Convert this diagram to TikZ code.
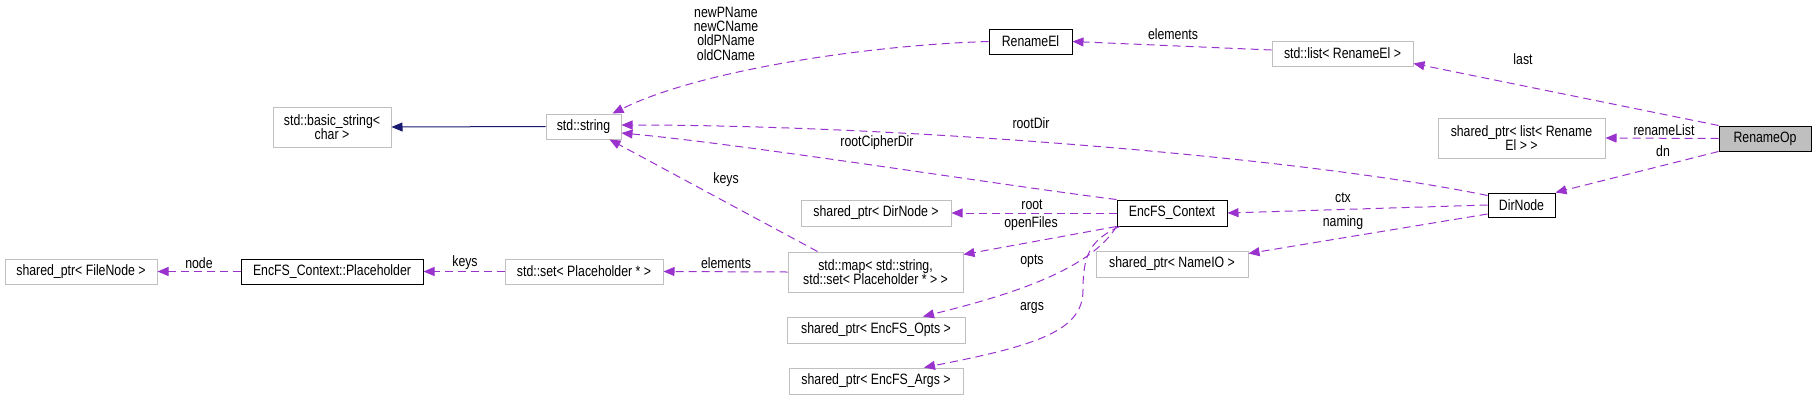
\documentclass[tikz,border=0pt]{standalone}
\usepackage{fontspec}
\setmainfont{Liberation Sans}[FakeStretch=0.82]
\usepackage{tikz}
\usetikzlibrary{positioning, arrows.meta, calc}
\definecolor{dxPurple}{HTML}{9A32CD}
\definecolor{dxNavy}{HTML}{191970}
\definecolor{dxGray}{HTML}{BFBFBF}

\begin{document}
\begin{tikzpicture}[
    x=1pt, y=-1pt,
    >={Triangle[length=11pt, width=9pt]},
    font=\fontsize{15}{14.3}\selectfont,
    box/.style={draw=dxGray, line width=1pt, fill=white, inner sep=0pt,
                minimum height=25pt, align=center},
    docbox/.style={box, draw=black},
    curbox/.style={docbox, fill=dxGray},
    lbl/.style={inner sep=0pt, align=center},
    usearrow/.style={->, dxPurple, line width=1pt, dash pattern=on 8pt off 5pt},
    basearrow/.style={->, dxNavy, line width=1pt},
]
\useasboundingbox (0,0) rectangle (1816,400);

% --- Top row: strings and rename elements ---
\node[box, minimum width=118pt, minimum height=40pt] (basic) at (332,127) {std::basic\_string<\\char >};
\node[box, minimum width=75pt] (string) at (583.5,126.5) {std::string};
\node[docbox, minimum width=83pt] (renel) at (1030.5,41.5) {RenameEl};
\node[box, minimum width=141pt] (strlist) at (1342.5,53.5) {std::list< RenameEl >};
\node[box, minimum width=167pt, minimum height=40pt] (splist) at (1521.5,138) {shared\_ptr< list< Rename\\El > >};
\node[curbox, minimum width=92pt] (renameop) at (1765,138.5) {RenameOp};
\node[docbox, minimum width=67pt, minimum height=24pt] (dirnode) at (1521.5,205) {DirNode};

% --- Middle: context and its members ---
\node[docbox, minimum width=110pt, minimum height=26pt] (ctx) at (1172,213) {EncFS\_Context};
\node[box, minimum width=150pt, minimum height=26pt] (spdir) at (876,213) {shared\_ptr< DirNode >};
\node[box, minimum width=152pt, minimum height=26pt] (nameio) at (1172,264) {shared\_ptr< NameIO >};
\node[box, minimum width=175pt, minimum height=40pt] (map) at (875.5,272) {std::map< std::string,\\ std::set< Placeholder * > >};
\node[box, minimum width=178pt, minimum height=26pt] (opts) at (876,330) {shared\_ptr< EncFS\_Opts >};
\node[box, minimum width=174pt, minimum height=26pt] (args) at (876,381) {shared\_ptr< EncFS\_Args >};

% --- Bottom left: placeholder chain ---
\node[box, minimum width=158pt] (set) at (584,271.5) {std::set< Placeholder * >};
\node[docbox, minimum width=182pt] (ph) at (332,271.5) {EncFS\_Context::Placeholder};
\node[box, minimum width=152pt] (fnode) at (81,271.5) {shared\_ptr< FileNode >};

% --- Edges ---
\draw[basearrow] (string.west) -- (basic.east);
\draw[usearrow] (renel.west) .. controls (870,45) and (700,70) .. ([xshift=-9pt]string.north east);
\draw[usearrow] ([yshift=3.5pt]strlist.west) -- (renel.east);
\draw[usearrow] (renameop.north west) -- ([yshift=3pt]strlist.south east);
\draw[usearrow] (renameop.west) -- (splist.east);
\draw[usearrow] (renameop.south west) -- (dirnode.north east);
\draw[usearrow] ([yshift=-3pt]dirnode.north west) .. controls (1300,157) and (900,125) .. ([yshift=1.5pt]string.east);
\draw[usearrow] (ctx.north west) .. controls (1000,185) and (750,145) .. ([yshift=-6.5pt]string.east);
\draw[usearrow] ([xshift=30pt]map.north west) -- ([xshift=-12pt]string.south east);
\draw[usearrow] (dirnode.west) -- (ctx.east);
\draw[usearrow] ([yshift=-9pt]dirnode.west) -- ([yshift=-3pt]nameio.north east);
\draw[usearrow] (ctx.west) -- (spdir.east);
\draw[usearrow] (ctx.south west) -- ([yshift=-3pt]map.north east);
\draw[usearrow] (ctx.south west) .. controls (1090,270) and (1010,295) .. ([xshift=47pt]opts.north);
\coordinate (argsbend) at (1083,290);
\draw[usearrow] ([xshift=3pt]ctx.south west) .. controls (1090,240) and (1083,255) .. (argsbend)
                .. controls (1083,330) and (1040,345) .. ([xshift=48pt]args.north);
\draw[usearrow] (map.west) -- (set.east);
\draw[usearrow] (set.west) -- (ph.east);
\draw[usearrow] (ph.west) -- (fnode.east);

% --- Edge labels ---
\node[lbl] (lnames) at (726,33.5) {newPName\\newCName\\oldPName\\oldCName};
\node[lbl] (lelemtop) at (1173,34) {elements};
\node[lbl] (llast) at (1523,59) {last};
\node[lbl] (lrenlist) at (1664,130) {renameList};
\node[lbl] (ldn) at (1663,151) {dn};
\node[lbl] (lrootdir) at (1031,123) {rootDir};
\node[lbl] (lrootciph) at (877,143) {rootCipherDir};
\node[lbl] (lkeystop) at (726,180) {keys};
\node[lbl] (lroot) at (1032,205) {root};
\node[lbl] (lopen) at (1031,224) {openFiles};
\node[lbl] (lopts) at (1032,261) {opts};
\node[lbl] (largs) at (1032,308) {args};
\node[lbl] (lctx) at (1343,198) {ctx};
\node[lbl] (lnaming) at (1343,223) {naming};
\node[lbl] (lelembot) at (726,263) {elements};
\node[lbl] (lkeysbot) at (465,263) {keys};
\node[lbl] (lnode) at (199,263) {node};

\end{tikzpicture}
\end{document}
